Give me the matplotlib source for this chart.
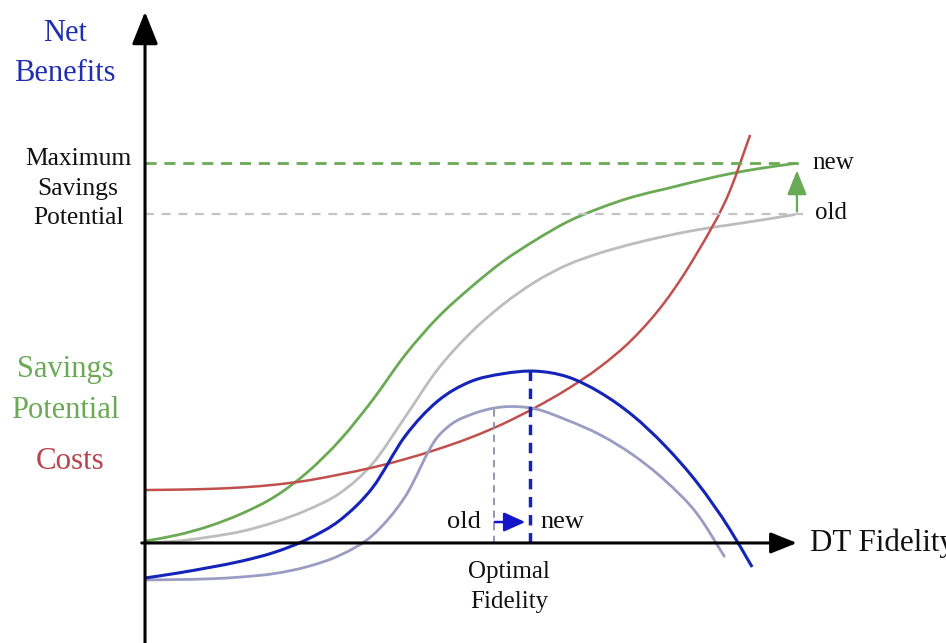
import numpy as np
import matplotlib
matplotlib.use('Agg')
import matplotlib.pyplot as plt
from matplotlib.path import Path
from matplotlib.patches import PathPatch

plt.rcParams['font.family'] = ['Liberation Serif', 'DejaVu Serif']

# curves (fidelity on x, benefit on y)
fid = [0, 0.5, 1, 1.5, 2, 2.5, 3, 3.5, 4, 4.5, 5, 5.5, 6, 6.5, 7, 7.5, 8, 8.5, 9, 9.5, 10]

sav_new = [0.05, 0.21, 0.45, 0.78, 1.22, 1.86, 2.70, 3.75, 4.93, 5.91, 6.69, 7.38, 7.94,
           8.43, 8.79, 9.08, 9.29, 9.50, 9.69, 9.84, 9.96]
sav_old = [0, 0.05, 0.16, 0.31, 0.55, 0.87, 1.31, 2.08, 3.30, 4.55, 5.50, 6.25, 6.85,
           7.30, 7.61, 7.85, 8.05, 8.22, 8.35, 8.48, 8.62]

cost_x = fid[:19] + [9.31]
cost_y = [1.39, 1.40, 1.42, 1.46, 1.53, 1.64, 1.80, 1.98, 2.20, 2.46, 2.76, 3.12, 3.55,
          4.04, 4.62, 5.35, 6.33, 7.63, 9.25, 10.71]

net_new_x = fid[:19] + [9.34]
net_new_y = [-0.92, -0.79, -0.64, -0.47, -0.24, 0.10, 0.60, 1.45, 2.80, 3.72, 4.23, 4.44,
             4.51, 4.36, 3.95, 3.35, 2.55, 1.57, 0.35, -0.63]

net_old_x = fid[:9] + [4.5, 4.74, 5, 5.5, 6, 6.5, 7, 7.5, 8, 8.5, 8.92]
net_old_y = [-0.97, -0.96, -0.94, -0.89, -0.80, -0.62, -0.32, 0.20, 1.21, 2.78, 3.15, 3.36,
             3.57, 3.52, 3.22, 2.84, 2.32, 1.64, 0.75, -0.37]

max_new = 9.97
max_old = 8.64
opt_old = 5.37
opt_new = 5.92


def smooth_path(xs, ys):
    # cubic hermite through the read points, handed to matplotlib as bezier segments
    x = np.asarray(xs, float)
    y = np.asarray(ys, float)
    h = np.diff(x)
    s = np.diff(y) / h
    d = np.empty_like(x)
    d[0], d[-1] = s[0], s[-1]
    d[1:-1] = (h[1:] * s[:-1] + h[:-1] * s[1:]) / (h[:-1] + h[1:])
    verts = [(x[0], y[0])]
    codes = [Path.MOVETO]
    for i in range(len(x) - 1):
        verts += [(x[i] + h[i] / 3, y[i] + d[i] * h[i] / 3),
                  (x[i + 1] - h[i] / 3, y[i + 1] - d[i + 1] * h[i] / 3),
                  (x[i + 1], y[i + 1])]
        codes += [Path.CURVE4] * 3
    return Path(verts, codes)


fig = plt.figure(figsize=(9.46, 6.43), dpi=100)
ax = fig.add_axes([0, 0, 1, 1])
ax.set_xlim(-2.231, 12.323)
ax.set_ylim(-2.625, 14.25)
ax.axis('off')

# dashed max-savings lines
ax.plot([0, 10.12], [max_new, max_new], color='#6aaa55', lw=2, dashes=(4, 2.8))
ax.plot([0, 10.12], [max_old, max_old], color='#c4c4c4', lw=1.6, dashes=(4, 3.5))

curves = [
    (fid, sav_old, '#bdbdbd', 2.0),
    (fid, sav_new, '#6aaa55', 2.0),
    (cost_x, cost_y, '#c0504d', 1.8),
    (net_old_x, net_old_y, '#9a9cc4', 2.0),
    (net_new_x, net_new_y, '#1424b8', 2.2),
]
for xs, ys, col, lw in curves:
    ax.add_patch(PathPatch(smooth_path(xs, ys), fill=False, edgecolor=col, lw=lw,
                           capstyle='butt'))

# optimal fidelity markers
ax.plot([opt_old, opt_old], [0, 3.54], color='#8a8cb0', lw=1.3, dashes=(4, 3))
ax.plot([opt_new, opt_new], [0, 4.51], color='#1424b8', lw=2.5, dashes=(3, 2.2))

# axes
ax.annotate('', xy=(0, 13.94), xytext=(0, -2.7),
            arrowprops=dict(arrowstyle='-|>,head_length=1.0,head_width=0.4', color='black',
                            lw=2.2, mutation_scale=20, shrinkA=0, shrinkB=0))
ax.annotate('', xy=(10.03, 0), xytext=(-0.05, 0),
            arrowprops=dict(arrowstyle='-|>,head_length=1.0,head_width=0.4', color='black',
                            lw=2.2, mutation_scale=16, shrinkA=0, shrinkB=0))

# shift arrows
ax.annotate('', xy=(10.03, 9.78), xytext=(10.03, 8.7),
            arrowprops=dict(arrowstyle='-|>,head_length=1.0,head_width=0.4', color='#6aaa55',
                            lw=1.6, mutation_scale=15, shrinkA=0, shrinkB=0))
ax.annotate('', xy=(5.85, 0.55), xytext=(5.38, 0.55),
            arrowprops=dict(arrowstyle='-|>,head_length=1.0,head_width=0.45', color='#1414c8',
                            lw=1.8, mutation_scale=13, shrinkA=0, shrinkB=0))

# labels
ax.text(-1.23, 12.85, 'Net\nBenefits', color='#1f2fb0', fontsize=22, ha='center', va='center',
        linespacing=1.5)
ax.text(-1.03, 9.3, 'Maximum\nSavings\nPotential', color='#111111', fontsize=18.4,
        ha='center', va='center', linespacing=1.42)
ax.text(-1.23, 4.02, 'Savings\nPotential', color='#6aaa55', fontsize=22, ha='center',
        va='center', linespacing=1.52)
ax.text(-1.15, 2.13, 'Costs', color='#b8434c', fontsize=22.3, ha='center', va='center')
ax.text(10.26, 9.97, 'new', fontsize=18, ha='left', va='center', color='#111111')
ax.text(10.31, 8.66, 'old', fontsize=18, ha='left', va='center', color='#111111')
ax.text(10.23, 0, 'DT Fidelity', fontsize=22.3, ha='left', va='center', color='#111111')
ax.text(5.17, 0.55, 'old', fontsize=19, ha='right', va='center', color='#111111')
ax.text(6.08, 0.55, 'new', fontsize=19, ha='left', va='center', color='#111111')
ax.text(5.6, -1.15, 'Optimal\nFidelity', fontsize=18, ha='center', va='center',
        linespacing=1.5, color='#111111')

fig.savefig('out.png', dpi=100, facecolor='white')
